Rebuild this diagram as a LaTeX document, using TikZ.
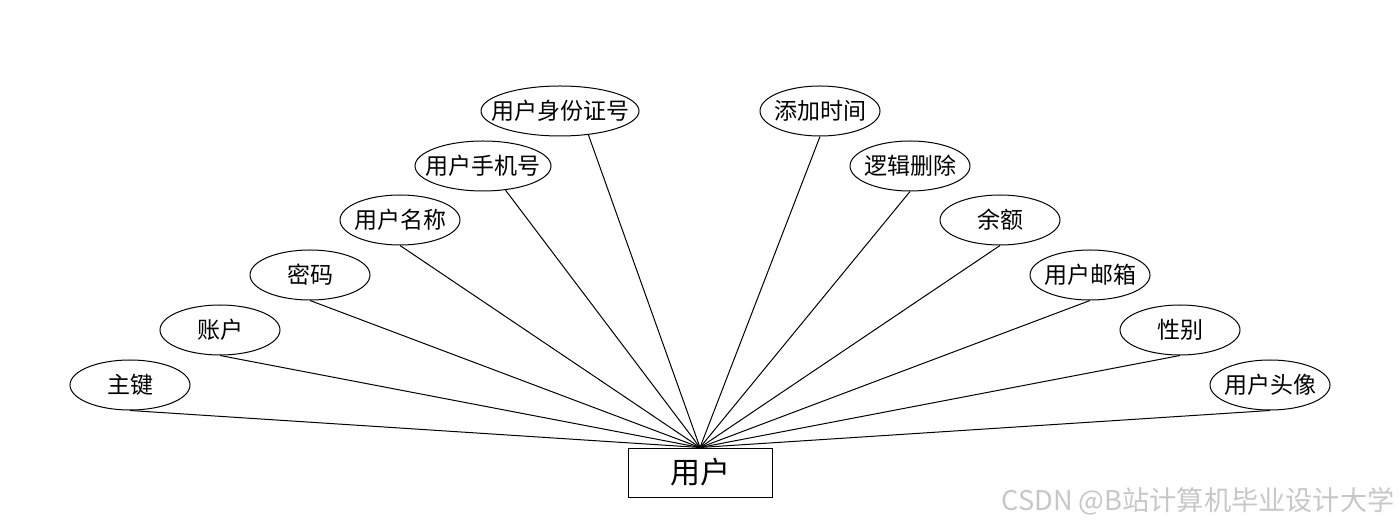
\documentclass[tikz,border=0pt]{standalone}
\usepackage{fontspec}
\setmainfont{Noto Sans CJK SC}
\usetikzlibrary{shapes.geometric}

\begin{document}
\begin{tikzpicture}[x=0.5pt,y=-0.5pt,line width=0.5pt,
  attr/.style={draw,ellipse,inner sep=0pt,minimum width=60pt,minimum height=25pt,font=\fontsize{11.5}{12}\selectfont,
    execute at begin node={\hbox to 0pt\bgroup\hss},execute at end node={\hss\egroup}},
  entity/.style={draw,rectangle,inner sep=0pt,minimum width=72pt,minimum height=24.5pt,font=\fontsize{15}{16}\selectfont}]
\useasboundingbox (0,0) rectangle (1400,528);
% entity
\node[entity] (user) at (700,472.5) {用户};
% attributes, left side
\node[attr] (zj) at (130,385) {主键};
\node[attr] (zh) at (220,330) {账户};
\node[attr] (mm) at (310,275) {密码};
\node[attr] (mc) at (400,220) {用户名称};
\node[attr,minimum width=68pt] (sj) at (483,166) {用户手机号};
\node[attr,minimum width=79pt] (sfz) at (560,111) {用户身份证号};
% attributes, right side
\node[attr] (tj) at (820,111) {添加时间};
\node[attr] (sc) at (910,166) {逻辑删除};
\node[attr] (ye) at (1000,220) {余额};
\node[attr] (yx) at (1090,275) {用户邮箱};
\node[attr] (xb) at (1180,330) {性别};
\node[attr] (tx) at (1270,385) {用户头像};
% links
\foreach \a in {zj,zh,mm,mc,tj,sc,ye,yx,xb,tx}
  \draw (user.north) -- (\a.south);
\draw (user.north) -- (sj.-47);
\draw (user.north) -- (sfz.-40);
% watermark
\node[anchor=east,text=black!22,inner sep=0pt,font=\fontsize{13.6}{14}\selectfont] (wm) at (1395,501) {CSDN @B站计算机毕业设计大学};
\end{tikzpicture}
\end{document}
